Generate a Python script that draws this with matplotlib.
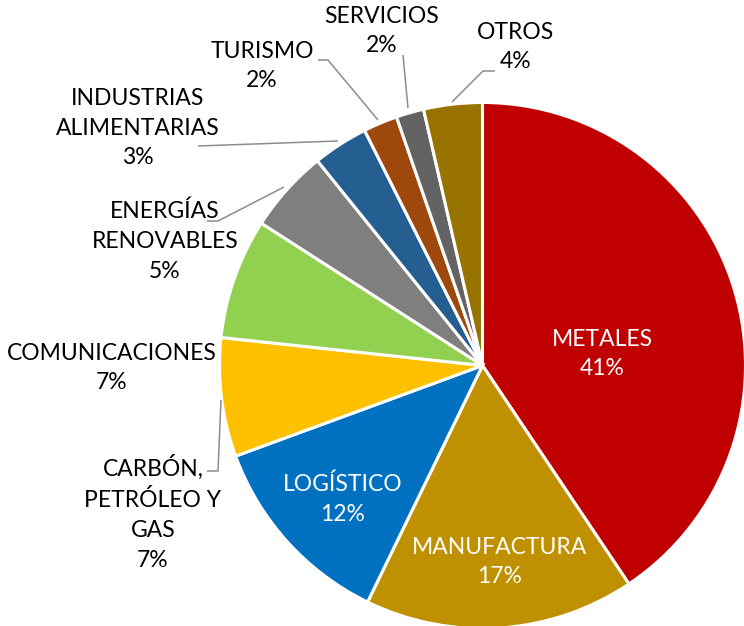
import matplotlib
matplotlib.use("Agg")
import matplotlib.pyplot as plt

categories = ["METALES", "MANUFACTURA", "LOGÍSTICO", "CARBÓN, PETRÓLEO Y GAS",
              "COMUNICACIONES", "ENERGÍAS RENOVABLES", "INDUSTRIAS ALIMENTARIAS",
              "TURISMO", "SERVICIOS", "OTROS"]
values = [40.6, 16.6, 12.2, 7.3, 7.4, 5.1, 3.4, 2.1, 1.7, 3.6]
label_texts = ["METALES", "MANUFACTURA", "LOGÍSTICO", "CARBÓN,\nPETRÓLEO Y\nGAS",
               "COMUNICACIONES", "ENERGÍAS\nRENOVABLES", "INDUSTRIAS\nALIMENTARIAS",
               "TURISMO", "SERVICIOS", "OTROS"]
colors = ["#C00000", "#BF9000", "#0070C0", "#FFC000", "#92D050",
          "#7F7F7F", "#255E91", "#9E480E", "#636363", "#997300"]

W, H = 744, 626
CX, CY, R = 482.5, 365.5, 263.0

fig = plt.figure(figsize=(W / 100, H / 100), dpi=100)
ax = fig.add_axes([(CX - R) / W, (H - CY - R) / H, 2 * R / W, 2 * R / H])
ax.axis("off")

ax.pie(values, colors=colors, startangle=90, counterclock=False, radius=1,
       center=(0, 0), frame=False,
       wedgeprops=dict(edgecolor="white", linewidth=2.2))
ax.set_xlim(-1, 1)
ax.set_ylim(-1, 1)


def P(px, py):
    return ((px - CX) / R, (CY - py) / R)


FONT = "Lato"
FS = 16.5
# label block centers (pixels)
label_pos = [
    (602, 354, "white"),
    (500, 562, "white"),
    (343, 499, "white"),
    (153, 513, "black"),
    (112, 368, "black"),
    (165, 241, "black"),
    (138, 128, "black"),
    (262, 66, "black"),
    (382, 31, "black"),
    (516, 47, "black"),
]
total = sum(values)
for txt, v, (px, py, c) in zip(label_texts, values, label_pos):
    x, y = P(px, py)
    ax.text(x, y, f"{txt}\n{round(100 * v / total)}%", ha="center", va="center",
            color=c, fontsize=FS, family=FONT, linespacing=1.52, clip_on=False)

leaders = [
    [(318, 60), (328, 60), (378, 120)],
    [(403, 55), (408, 108)],
    [(495, 71), (483, 71), (452, 102)],
    [(198, 146), (338, 141)],
    [(207, 221), (218, 221), (284, 187)],
    [(207, 471), (218, 471), (221, 400)],
]
for pts in leaders:
    xs, ys = zip(*[P(a, b) for a, b in pts])
    ax.plot(xs, ys, color="#8C8C8C", lw=1.1, clip_on=False, solid_capstyle="butt")

fig.savefig("out.png", dpi=100)
